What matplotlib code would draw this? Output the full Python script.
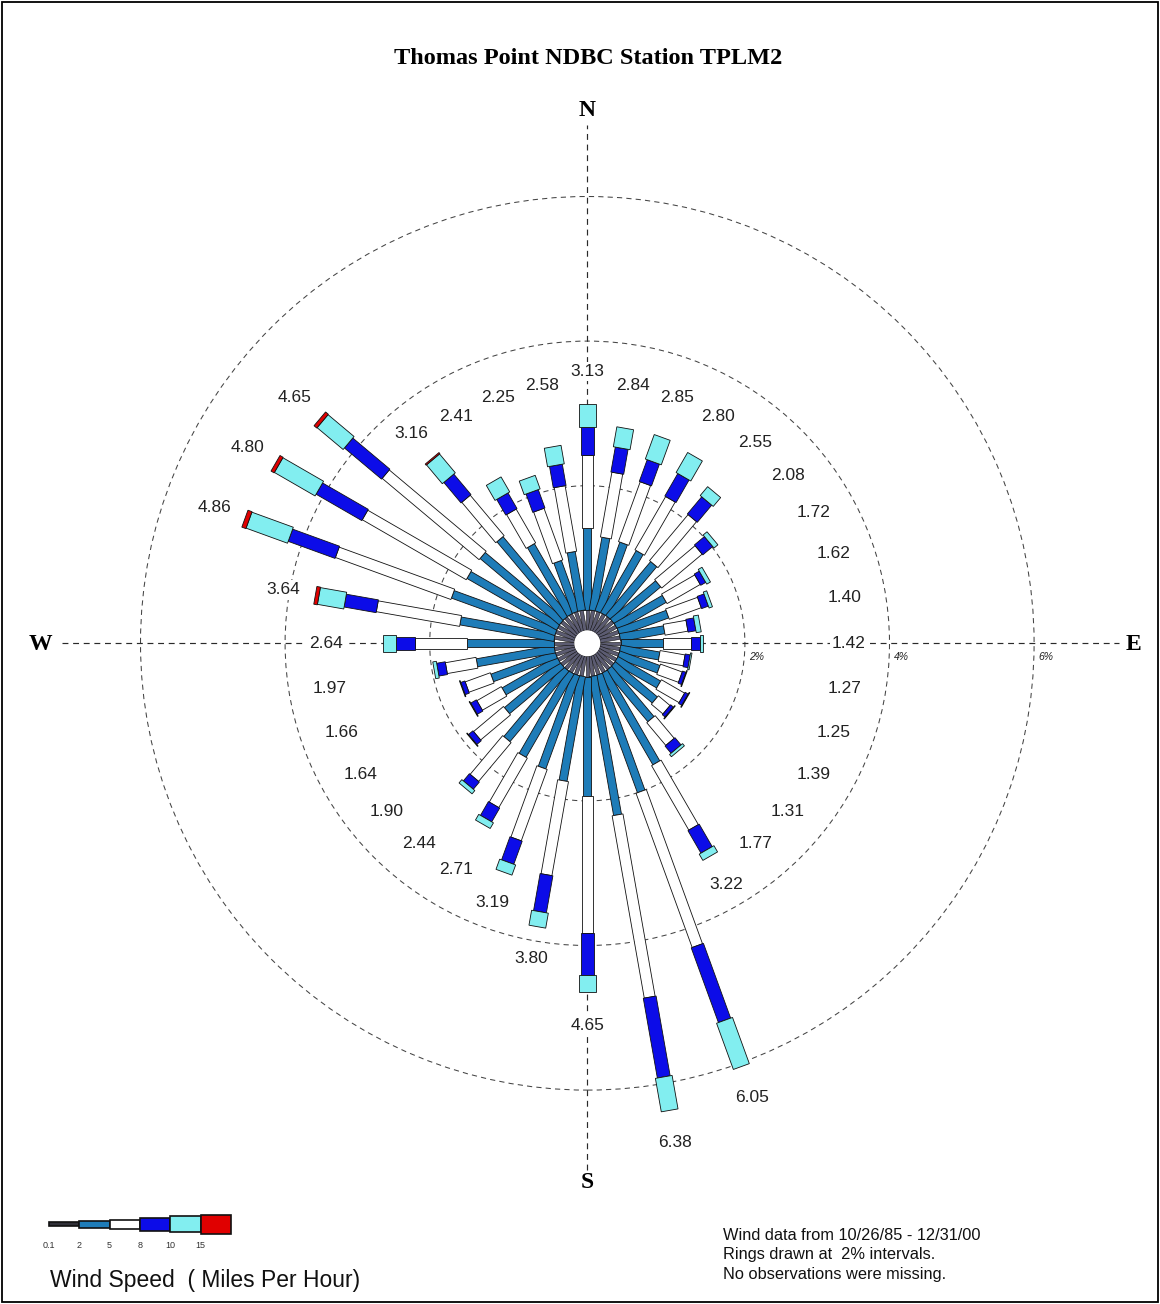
import numpy as np
import matplotlib
matplotlib.use('Agg')
import matplotlib.pyplot as plt
from matplotlib.patches import Polygon, Circle, Rectangle

# ---------------- data (percent of observations) ----------------
directions = list(range(0, 360, 10))  # bearing, degrees from North, clockwise
spd_01_2 = [0.28] * 36
spd_2_5 = [1.14, 1.02, 1.01, 0.99, 0.97, 0.82, 0.77, 0.72, 0.62, 0.59, 0.55, 0.59,
           0.68, 0.76, 0.91, 1.45, 1.72, 1.95, 1.65, 1.47, 1.37, 1.33, 1.27, 0.99,
           0.87, 0.94, 1.09, 1.21, 1.32, 1.52, 1.43, 1.43, 1.42, 1.10, 0.74, 0.82]
spd_5_8 = [1.01, 0.91, 0.88, 0.85, 0.83, 0.73, 0.53, 0.47, 0.32, 0.39, 0.35, 0.32,
           0.37, 0.21, 0.41, 1.03, 2.27, 2.56, 1.90, 1.32, 1.05, 0.79, 0.70, 0.54,
           0.39, 0.37, 0.43, 0.72, 1.17, 1.70, 1.66, 1.75, 0.73, 0.54, 0.76, 0.92]
spd_8_10 = [0.38, 0.35, 0.32, 0.36, 0.31, 0.18, 0.08, 0.10, 0.11, 0.12, 0.07, 0.05,
            0.05, 0.05, 0.13, 0.36, 1.10, 1.12, 0.58, 0.52, 0.34, 0.22, 0.13, 0.08,
            0.09, 0.06, 0.12, 0.25, 0.45, 0.69, 0.73, 0.67, 0.37, 0.25, 0.27, 0.30]
spd_10_15 = [0.32, 0.28, 0.36, 0.32, 0.16, 0.07, 0.06, 0.05, 0.07, 0.04, 0.02, 0.01,
             0.01, 0.01, 0.04, 0.10, 0.68, 0.47, 0.24, 0.21, 0.15, 0.09, 0.06, 0.01,
             0.01, 0.01, 0.05, 0.18, 0.37, 0.61, 0.65, 0.47, 0.34, 0.24, 0.20, 0.26]
spd_15p = [0, 0, 0, 0, 0, 0, 0, 0, 0, 0, 0, 0,
           0, 0, 0, 0, 0, 0, 0, 0, 0, 0, 0, 0,
           0, 0, 0, 0, 0.05, 0.06, 0.05, 0.05, 0.02, 0, 0, 0]
speed_ticks = ['0.1', '2', '5', '8', '10', '15']
ring_pcts = [2, 4, 6]
title_text = 'Thomas Point NDBC Station TPLM2'
legend_title = 'Wind Speed  ( Miles Per Hour)'
notes = ['Wind data from 10/26/85 - 12/31/00',
         'Rings drawn at  2% intervals.',
         'No observations were missing.']

# ---------------- styling ----------------
W_PX, H_PX, DPI = 1160, 1304, 100
PX = 72.3                 # pixels per percent
CX, CY = 587.3, 643.3     # rose centre in pixels (from top-left)
R0 = 13 / PX              # radius of the centre hole (0 %)
seg_colors = ['#5c5c72', '#1e7cb8', '#ffffff', '#0c0ce8', '#82eef0', '#e00000']
seg_widths_px = [3.5, 8, 11, 13, 17, 18]
leg_heights_px = [4, 7, 9, 13, 16, 19]

fig = plt.figure(figsize=(W_PX / DPI, H_PX / DPI), dpi=DPI)
fig.patch.set_facecolor('white')
ax = fig.add_axes([0, 0, 1, 1])
ax.set_xlim(-CX / PX, (W_PX - CX) / PX)
ax.set_ylim(-(H_PX - CY) / PX, CY / PX)
ax.set_aspect('equal')
ax.axis('off')

# rings
for p in ring_pcts:
    ax.add_patch(Circle((0, 0), R0 + p, fill=False, ec='#444444', lw=0.75,
                        ls=(0, (5, 4)), zorder=1))
    ax.text(R0 + p + 4 / PX, -14 / PX, f'{p}%', style='italic', fontsize=7.5,
            family='Liberation Sans', ha='left', va='center', color='#222')

# cross hair
ax.plot([-7.27, 7.35], [0, 0], color='#2a2a2a', lw=0.85, ls=(0, (5, 4)), zorder=1)
ax.plot([0, 0], [-7.28, 7.17], color='#2a2a2a', lw=0.85, ls=(0, (5, 4)), zorder=1)

# bars
bins = [spd_01_2, spd_2_5, spd_5_8, spd_8_10, spd_10_15, spd_15p]
cum = np.cumsum(np.array(bins), axis=0)
starts = np.vstack([np.zeros(len(directions)), cum[:-1]])
theta = np.radians(directions)
ux, uy = np.sin(theta), np.cos(theta)
nx, ny = np.cos(theta), -np.sin(theta)
for k in range(len(bins)):
    hw = seg_widths_px[k] / PX / 2
    for i in range(len(directions)):
        if bins[k][i] <= 0:
            continue
        ra, rb = R0 + starts[k][i], R0 + cum[k][i]
        pts = [(ra * ux[i] + hw * nx[i], ra * uy[i] + hw * ny[i]),
               (rb * ux[i] + hw * nx[i], rb * uy[i] + hw * ny[i]),
               (rb * ux[i] - hw * nx[i], rb * uy[i] - hw * ny[i]),
               (ra * ux[i] - hw * nx[i], ra * uy[i] - hw * ny[i])]
        ax.add_patch(Polygon(pts, closed=True, fc=seg_colors[k], ec='#111',
                             lw=0.6 if k else 0.4, zorder=3 + k))
ax.add_patch(Circle((0, 0), R0, fc='white', ec='none', zorder=10))

# total labels
totals = cum[-1]
for i in range(len(directions)):
    rl = R0 + max(totals[i] + 0.45, 3.44)
    ax.text(rl * ux[i], rl * uy[i], f'{totals[i]:.2f}', fontsize=12.5,
            family='Liberation Sans', color='#222', ha='center', va='center',
            bbox=dict(fc='white', ec='none', pad=1.8), zorder=2)

# ---------------- overlay (pixel space) ----------------
ov = fig.add_axes([0, 0, 1, 1], facecolor='none')
ov.set_xlim(0, W_PX)
ov.set_ylim(H_PX, 0)
ov.axis('off')
ov.add_patch(Rectangle((2, 2), W_PX - 4, H_PX - 4, fill=False, ec='black', lw=1.3))
ov.text(588, 58, title_text, family='Liberation Serif', weight='bold', fontsize=17.5,
        ha='center', va='center')
for lab, (x, y) in zip(['N', 'E', 'S', 'W'],
                       [(587, 110), (1133, 645), (587, 1183), (40, 645)]):
    ov.text(x, y, lab, family='Liberation Serif', weight='bold', fontsize=17,
            ha='center', va='center')

# legend
lx0, seg_len, ly = 49, 30.3, 1224
for k in range(len(seg_colors)):
    h = leg_heights_px[k]
    ov.add_patch(Rectangle((lx0 + k * seg_len, ly - h / 2), seg_len, h,
                           fc=seg_colors[k] if k else '#303038', ec='#111', lw=1.2))
    ov.text(lx0 + k * seg_len, 1245, speed_ticks[k], fontsize=6.5,
            family='Liberation Sans', ha='center', va='center', color='#333')
ov.text(50, 1281, legend_title, fontsize=16.5, family='Liberation Sans',
        ha='left', va='center', color='#111')
for j, line in enumerate(notes):
    ov.text(723, 1235 + 20 * j, line, fontsize=11.8, family='Liberation Sans',
            ha='left', va='center', color='#111')

fig.savefig('out.png', dpi=DPI)
